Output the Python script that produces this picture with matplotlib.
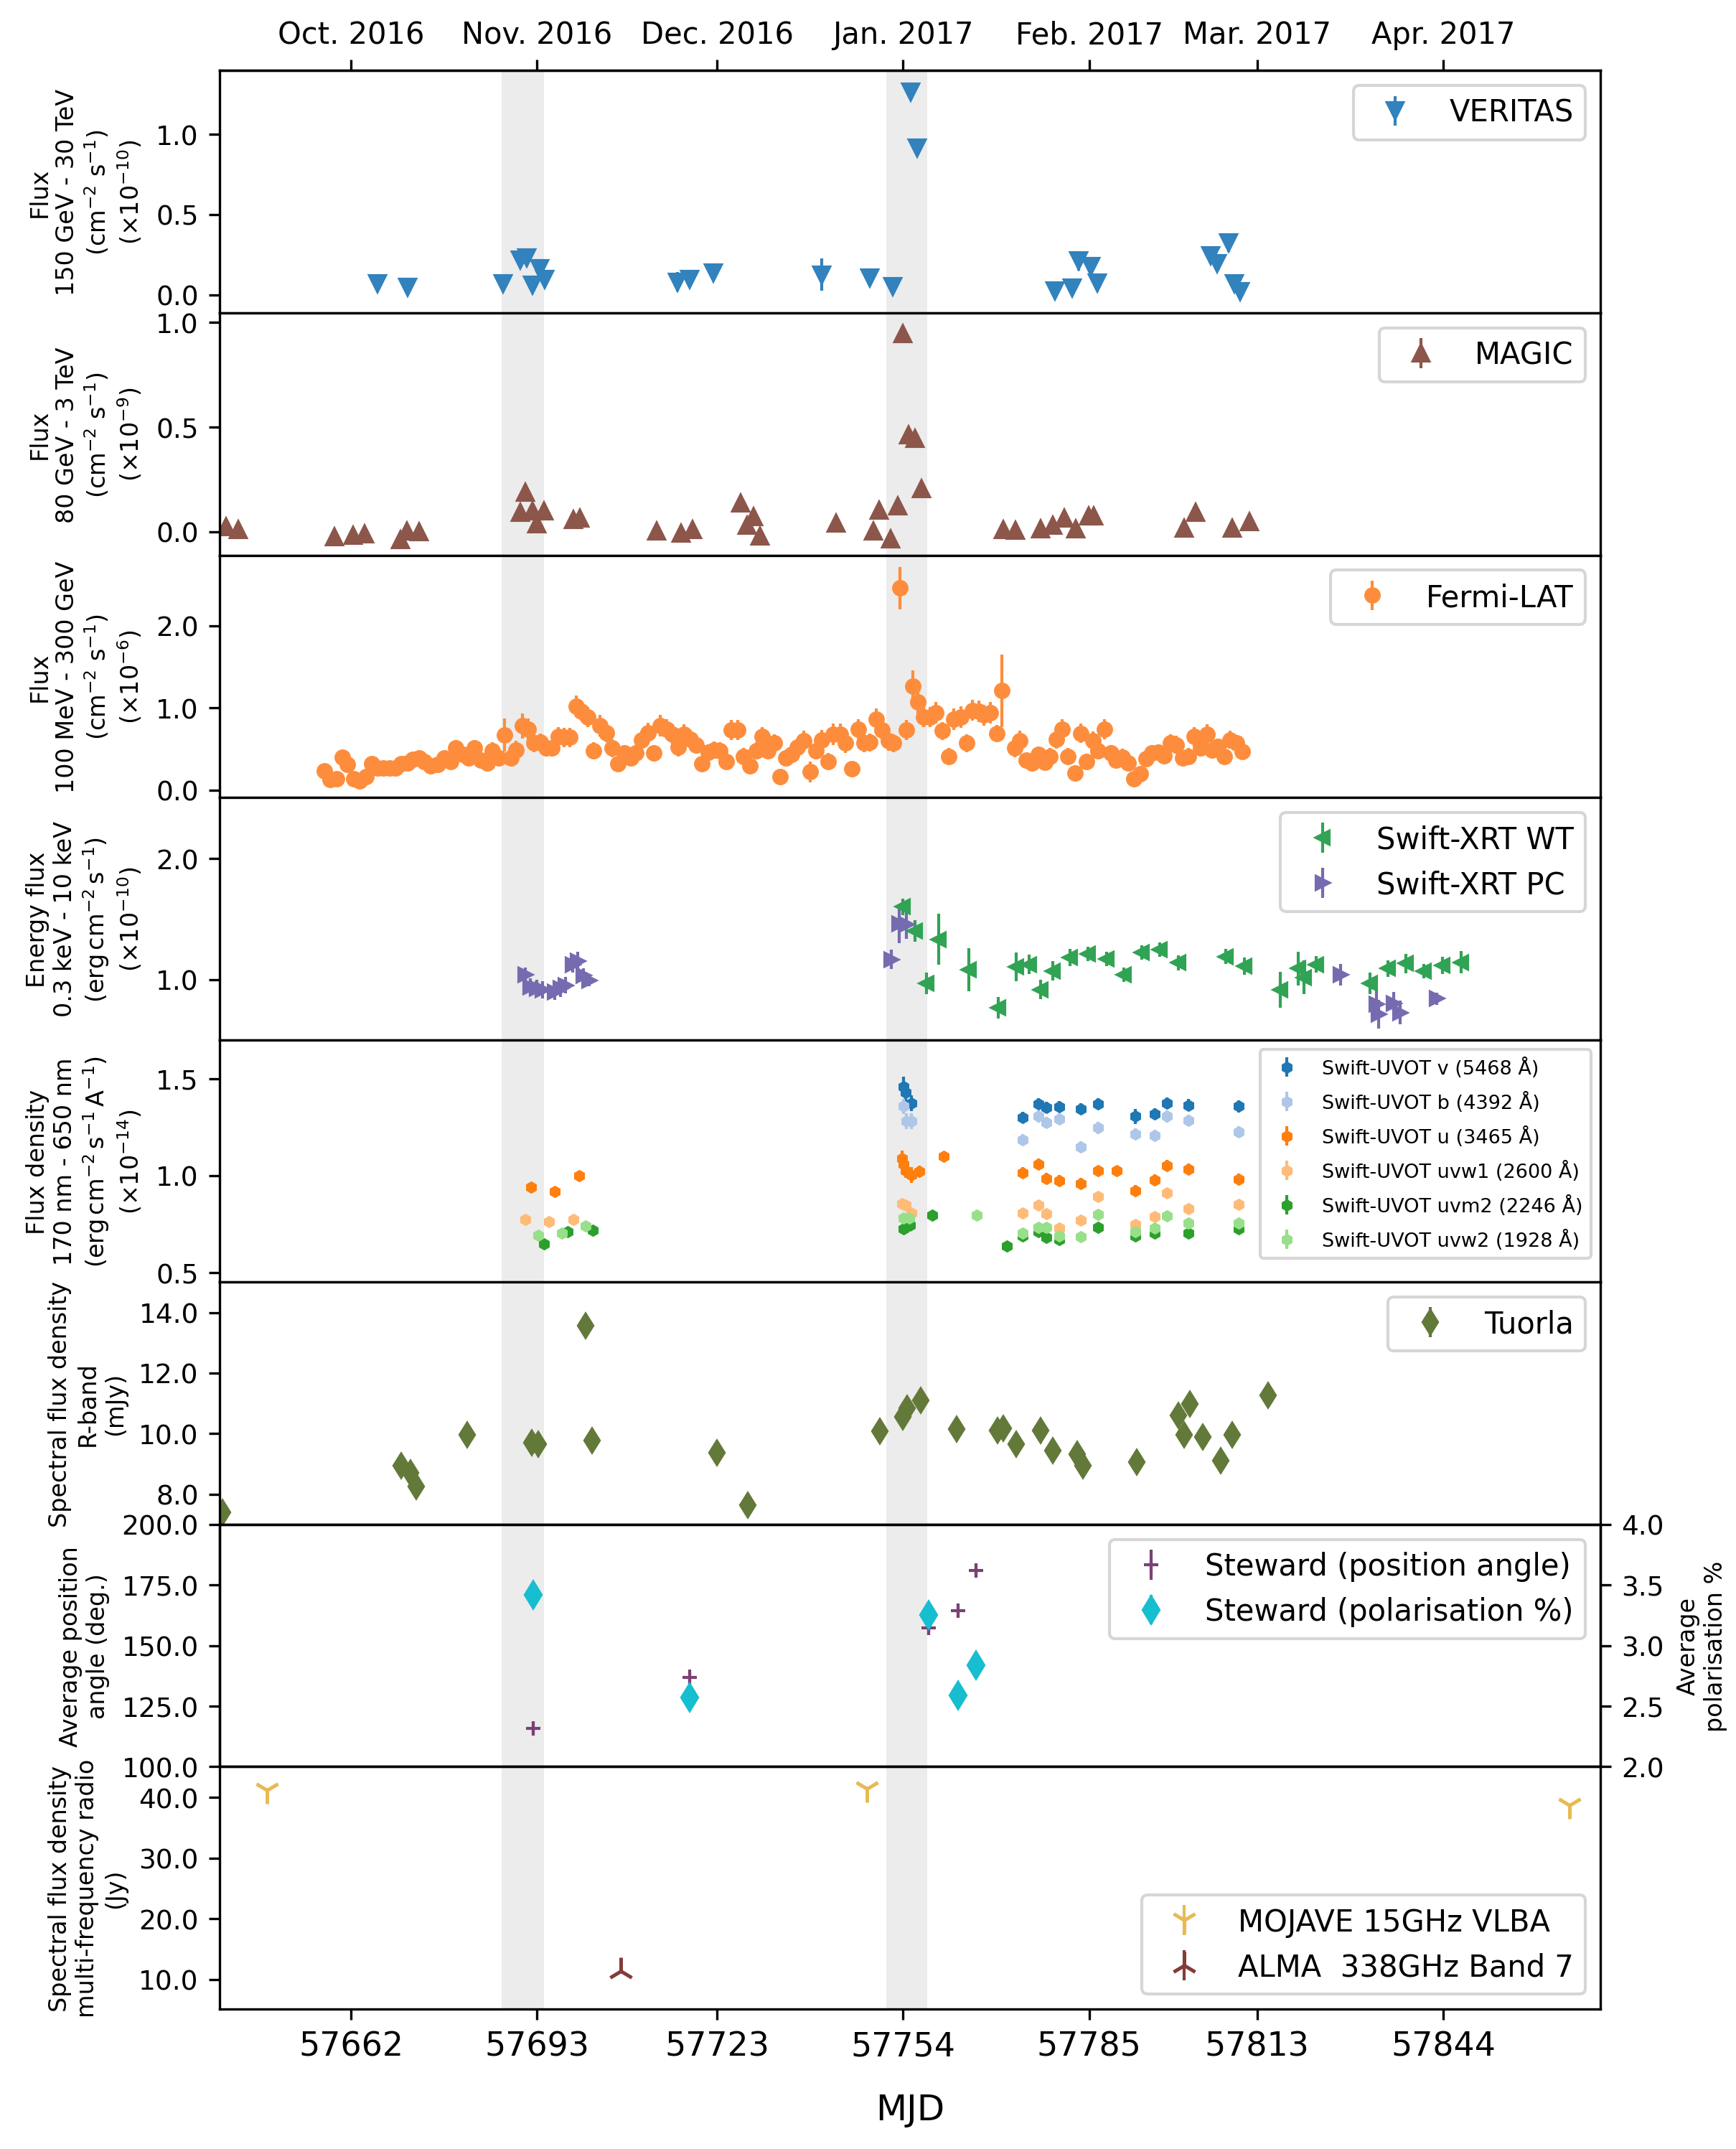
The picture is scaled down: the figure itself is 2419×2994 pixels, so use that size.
import matplotlib.pyplot as plt
from matplotlib.ticker import FormatStrFormatter

# ---------------- data ----------------
month_mjd = [57662, 57693, 57723, 57754, 57785, 57813, 57844]
month_labels = ["Oct. 2016", "Nov. 2016", "Dec. 2016", "Jan. 2017",
                "Feb. 2017", "Mar. 2017", "Apr. 2017"]
flare_windows = [(57687.1, 57694.2), (57751.2, 57758.0)]

# VERITAS (x1e-10)
veritas_mjd = [57666.4, 57671.4, 57687.3, 57690.2, 57691.3, 57692.2, 57693.4, 57694.3,
               57716.4, 57718.4, 57722.4, 57740.4, 57748.5, 57752.3, 57755.3, 57756.3,
               57779.3, 57782.2, 57783.3, 57785.3, 57786.3, 57805.3, 57806.3, 57808.2,
               57809.2, 57810.2]
veritas_flux = [0.069, 0.050, 0.069, 0.218, 0.233, 0.062, 0.165, 0.098,
                0.080, 0.096, 0.137, 0.126, 0.105, 0.053, 1.266, 0.916,
                0.027, 0.043, 0.213, 0.176, 0.073, 0.245, 0.195, 0.325,
                0.069, 0.023]
veritas_err = [0.03, 0.03, 0.03, 0.05, 0.04, 0.04, 0.05, 0.05,
               0.06, 0.05, 0.03, 0.10, 0.05, 0.04, 0.05, 0.05,
               0.03, 0.04, 0.06, 0.06, 0.05, 0.05, 0.05, 0.06,
               0.04, 0.05]

# MAGIC (x1e-9)
magic_mjd = [57641.2, 57643.2, 57659.2, 57662.3, 57664.3, 57670.2, 57671.3, 57673.3,
             57690.2, 57691.0, 57692.2, 57692.9, 57694.1, 57699.0, 57700.1, 57712.9,
             57717.0, 57718.9, 57726.9, 57728.0, 57729.1, 57730.1, 57742.8, 57749.1,
             57750.0, 57751.9, 57753.1, 57753.9, 57754.9, 57756.0, 57757.0, 57770.7,
             57772.7, 57776.9, 57778.9, 57780.8, 57782.8, 57784.9, 57785.8, 57800.8,
             57802.8, 57808.8, 57811.7]
magic_flux = [0.023, 0.010, -0.025, -0.017, -0.009, -0.039, 0.002, -0.002,
              0.092, 0.188, 0.098, 0.037, 0.098, 0.057, 0.066, 0.002,
              -0.007, 0.009, 0.136, 0.032, 0.070, -0.021, 0.040, 0.002,
              0.101, -0.035, 0.124, 0.944, 0.463, 0.445, 0.206, 0.009,
              0.005, 0.014, 0.031, 0.066, 0.014, 0.075, 0.075, 0.017,
              0.092, 0.017, 0.049]
magic_err = [0.02] * 27 + [0.03, 0.03, 0.03, 0.02] + [0.02] * 12

# Fermi-LAT (x1e-6)
fermi_mjd = [57657.5, 57658.5, 57659.6, 57660.5, 57661.4, 57662.5, 57663.4, 57664.5, 57665.4, 57666.4,
             57667.4, 57668.4, 57669.4, 57670.3, 57671.4, 57672.3, 57673.3, 57674.2, 57675.3, 57676.4,
             57677.5, 57678.6, 57679.5, 57680.6, 57681.6, 57682.5, 57683.6, 57684.7, 57685.6, 57686.6,
             57687.6, 57688.6, 57689.5, 57690.6, 57691.5, 57692.5, 57693.5, 57694.5, 57695.5, 57696.5,
             57697.5, 57698.4, 57699.5, 57700.4, 57701.5, 57702.4, 57703.5, 57704.5, 57705.5, 57706.5,
             57707.5, 57708.6, 57709.5, 57710.4, 57711.5, 57712.5, 57713.5, 57714.6, 57715.6, 57716.5,
             57717.5, 57718.5, 57719.5, 57720.5, 57721.5, 57722.5, 57723.5, 57724.5, 57725.4, 57726.5,
             57727.4, 57728.5, 57729.5, 57730.5, 57731.5, 57732.6, 57733.5, 57734.4, 57735.4, 57736.4,
             57737.4, 57738.5, 57739.5, 57740.4, 57741.5, 57742.4, 57743.5, 57744.4, 57745.5, 57746.5,
             57747.5, 57748.5, 57749.5, 57750.5, 57751.5, 57752.4, 57753.5, 57754.5,
             57755.6, 57756.5, 57757.4, 57758.5, 57759.5, 57760.5, 57761.6, 57762.5, 57763.6, 57764.6,
             57765.6, 57766.6, 57767.5, 57768.5, 57769.6, 57770.5, 57772.6, 57773.5, 57774.5, 57775.5,
             57776.5, 57777.6, 57778.5, 57779.5, 57780.5, 57781.5, 57782.6, 57783.6, 57784.6, 57785.6,
             57786.5, 57787.5, 57788.6, 57789.5, 57790.5, 57791.5, 57792.5, 57793.5, 57794.5, 57795.5,
             57796.5, 57797.5, 57798.5, 57799.5, 57800.6, 57801.6, 57802.5, 57803.6, 57804.6, 57805.5,
             57806.5, 57807.5, 57808.5, 57809.6, 57810.5]
fermi_flux = [0.23, 0.13, 0.14, 0.40, 0.31, 0.14, 0.11, 0.16, 0.32, 0.27,
              0.27, 0.27, 0.27, 0.32, 0.33, 0.37, 0.39, 0.35, 0.29, 0.31,
              0.39, 0.35, 0.51, 0.43, 0.39, 0.51, 0.36, 0.33, 0.48, 0.39,
              0.67, 0.39, 0.49, 0.78, 0.74, 0.57, 0.58, 0.51, 0.51, 0.65,
              0.64, 0.64, 1.02, 0.96, 0.89, 0.48, 0.78, 0.70, 0.51, 0.32,
              0.45, 0.39, 0.45, 0.61, 0.70, 0.45, 0.78, 0.74, 0.68, 0.52,
              0.68, 0.62, 0.55, 0.32, 0.46, 0.49, 0.48, 0.35, 0.73, 0.73,
              0.41, 0.29, 0.48, 0.65, 0.48, 0.57, 0.16, 0.39, 0.43, 0.52,
              0.60, 0.22, 0.48, 0.61, 0.35, 0.68, 0.68, 0.57, 0.26, 0.74,
              0.57, 0.58, 0.86, 0.73, 0.60, 0.57, 2.46, 0.73,
              1.26, 1.07, 0.89, 0.89, 0.94, 0.72, 0.41, 0.86, 0.89, 0.57,
              0.97, 0.96, 0.91, 0.94, 0.69, 1.21, 0.51, 0.60, 0.36, 0.33,
              0.43, 0.34, 0.41, 0.62, 0.74, 0.41, 0.21, 0.69, 0.35, 0.60,
              0.48, 0.74, 0.45, 0.36, 0.40, 0.33, 0.14, 0.20, 0.38, 0.45,
              0.46, 0.42, 0.57, 0.55, 0.39, 0.41, 0.65, 0.51, 0.68, 0.49,
              0.53, 0.41, 0.61, 0.57, 0.47]
fermi_err = [0.08, 0.07, 0.07, 0.09, 0.09, 0.07, 0.06, 0.07, 0.08, 0.07,
             0.07, 0.07, 0.07, 0.07, 0.08, 0.08, 0.08, 0.08, 0.08, 0.08,
             0.09, 0.08, 0.10, 0.09, 0.09, 0.10, 0.09, 0.09, 0.10, 0.09,
             0.20, 0.09, 0.11, 0.15, 0.13, 0.11, 0.11, 0.10, 0.10, 0.12,
             0.12, 0.12, 0.13, 0.12, 0.12, 0.10, 0.13, 0.12, 0.11, 0.09,
             0.10, 0.10, 0.10, 0.11, 0.12, 0.10, 0.13, 0.12, 0.12, 0.11,
             0.12, 0.11, 0.11, 0.09, 0.10, 0.10, 0.10, 0.09, 0.12, 0.12,
             0.10, 0.09, 0.10, 0.12, 0.10, 0.11, 0.07, 0.10, 0.10, 0.11,
             0.12, 0.13, 0.11, 0.12, 0.10, 0.13, 0.13, 0.12, 0.08, 0.12,
             0.11, 0.11, 0.13, 0.12, 0.12, 0.11, 0.26, 0.12,
             0.20, 0.14, 0.12, 0.12, 0.13, 0.11, 0.10, 0.13, 0.13, 0.11,
             0.13, 0.13, 0.13, 0.13, 0.10, 0.44, 0.11, 0.12, 0.09, 0.09,
             0.10, 0.09, 0.10, 0.12, 0.12, 0.10, 0.07, 0.12, 0.09, 0.11,
             0.10, 0.12, 0.10, 0.09, 0.10, 0.09, 0.07, 0.08, 0.09, 0.10,
             0.10, 0.10, 0.11, 0.11, 0.10, 0.10, 0.12, 0.10, 0.12, 0.10,
             0.10, 0.10, 0.11, 0.10, 0.10]

# Swift-XRT (x1e-10)
wt_mjd = [57753.9, 57756.0, 57757.9, 57759.9, 57764.9, 57769.9, 57772.8, 57775.0, 57776.9, 57779.0,
          57781.8, 57784.8, 57787.9, 57790.8, 57793.8, 57796.8, 57799.9, 57807.8, 57810.9, 57816.8,
          57819.9, 57820.8, 57822.8, 57831.8, 57834.8, 57837.8, 57840.8, 57843.9, 57847.0]
wt_flux = [1.602, 1.403, 0.966, 1.332, 1.080, 0.766, 1.106, 1.125, 0.917, 1.071,
           1.183, 1.210, 1.170, 1.037, 1.223, 1.249, 1.138, 1.191, 1.111, 0.913,
           1.090, 1.018, 1.125, 0.966, 1.090, 1.133, 1.071, 1.117, 1.143]
wt_err = [0.07, 0.09, 0.09, 0.21, 0.18, 0.09, 0.12, 0.08, 0.08, 0.08,
          0.07, 0.06, 0.06, 0.06, 0.06, 0.06, 0.06, 0.06, 0.07, 0.15,
          0.14, 0.14, 0.07, 0.09, 0.07, 0.08, 0.06, 0.07, 0.09]
pc_mjd = [57691.0, 57691.9, 57693.0, 57693.9, 57696.0, 57696.9, 57697.8, 57698.9, 57699.8, 57700.7,
          57701.7, 57752.0, 57753.4, 57754.6, 57826.9, 57832.9, 57833.2, 57835.7, 57836.8, 57842.9]
pc_flux = [1.040, 0.939, 0.926, 0.913, 0.899, 0.926, 0.952, 1.125, 1.151, 1.031,
           0.992, 1.165, 1.462, 1.456, 1.040, 0.793, 0.713, 0.799, 0.727, 0.841]
pc_err = [0.06, 0.07, 0.07, 0.07, 0.07, 0.07, 0.07, 0.07, 0.08, 0.06,
          0.05, 0.08, 0.16, 0.12, 0.09, 0.12, 0.12, 0.10, 0.10, 0.05]

# Swift-UVOT (x1e-14)
uv_v_mjd = [57754.1, 57754.4, 57755.4, 57773.9, 57776.6, 57777.9, 57780.0, 57783.6, 57786.5,
            57792.7, 57795.9, 57797.9, 57801.5, 57809.9]
uv_v = [1.459, 1.430, 1.373, 1.299, 1.369, 1.351, 1.354, 1.344, 1.369,
        1.305, 1.317, 1.373, 1.364, 1.357]
uv_v_err = [0.05, 0.05, 0.04, 0.03, 0.03, 0.03, 0.03, 0.03, 0.03, 0.04, 0.03, 0.03, 0.03, 0.03]
uv_b_mjd = [57754.1, 57754.5, 57755.4, 57773.9, 57776.6, 57777.9, 57780.0, 57783.6, 57786.5,
            57792.7, 57795.9, 57797.9, 57801.5, 57809.9]
uv_b = [1.357, 1.280, 1.280, 1.184, 1.305, 1.274, 1.293, 1.148, 1.246,
        1.215, 1.206, 1.305, 1.284, 1.225]
uv_b_err = [0.04, 0.04, 0.04, 0.03, 0.03, 0.03, 0.03, 0.03, 0.03, 0.03, 0.03, 0.03, 0.03, 0.03]
uv_u_mjd = [57692.0, 57696.0, 57700.0, 57753.8, 57754.1, 57754.4, 57755.4, 57756.7, 57760.8,
            57773.9, 57776.6, 57777.9, 57780.0, 57783.6, 57786.5, 57789.6, 57792.7, 57795.9,
            57797.9, 57801.5, 57809.9]
uv_u = [0.941, 0.919, 0.999, 1.089, 1.058, 1.027, 1.003, 1.021, 1.101,
        1.015, 1.060, 0.984, 0.974, 0.959, 1.027, 1.027, 0.922, 0.978,
        1.052, 1.033, 0.981]
uv_u_err = [0.02, 0.02, 0.02, 0.04, 0.04, 0.04, 0.04, 0.03, 0.02,
            0.03, 0.03, 0.03, 0.03, 0.03, 0.02, 0.02, 0.03, 0.03,
            0.03, 0.03, 0.03]
uv_w1_mjd = [57691.0, 57695.0, 57699.1, 57753.8, 57754.4, 57755.4, 57773.9, 57776.6, 57777.9,
             57780.0, 57783.6, 57786.5, 57792.7, 57795.9, 57797.9, 57801.5, 57809.9]
uv_w1 = [0.774, 0.764, 0.774, 0.857, 0.848, 0.809, 0.809, 0.848, 0.805,
         0.731, 0.771, 0.891, 0.747, 0.789, 0.912, 0.830, 0.851]
uv_w1_err = [0.02, 0.02, 0.02, 0.02, 0.02, 0.02, 0.02, 0.02, 0.02,
             0.02, 0.02, 0.02, 0.02, 0.02, 0.02, 0.02, 0.02]
uv_m2_mjd = [57694.1, 57698.1, 57702.3, 57754.1, 57755.2, 57758.8, 57771.3, 57773.9, 57776.6,
             57777.9, 57780.0, 57786.5, 57792.7, 57795.9, 57801.5, 57809.9]
uv_m2 = [0.647, 0.712, 0.719, 0.725, 0.743, 0.795, 0.636, 0.688, 0.712,
         0.681, 0.669, 0.733, 0.688, 0.703, 0.703, 0.727]
uv_m2_err = [0.01, 0.01, 0.01, 0.02, 0.02, 0.01, 0.01, 0.01, 0.01,
             0.01, 0.01, 0.01, 0.01, 0.01, 0.01, 0.01]
uv_w2_mjd = [57693.2, 57697.2, 57701.1, 57754.1, 57755.0, 57766.3, 57773.9, 57776.6, 57777.9,
             57780.0, 57783.6, 57786.5, 57792.7, 57795.9, 57797.9, 57801.5, 57809.9]
uv_w2 = [0.694, 0.703, 0.741, 0.780, 0.780, 0.795, 0.703, 0.734, 0.734,
         0.690, 0.685, 0.799, 0.712, 0.731, 0.793, 0.756, 0.756]
uv_w2_err = [0.02, 0.02, 0.02, 0.02, 0.02, 0.02, 0.02, 0.02, 0.02,
             0.02, 0.02, 0.02, 0.02, 0.02, 0.02, 0.02, 0.02]

# Tuorla R-band (mJy)
tuorla_mjd = [57640.6, 57670.3, 57671.9, 57672.9, 57681.3, 57692.1, 57693.2, 57701.1, 57702.2,
              57723.0, 57728.1, 57750.1, 57754.0, 57754.7, 57756.9, 57762.9, 57769.7, 57770.7,
              57772.9, 57776.9, 57778.9, 57783.0, 57784.0, 57792.9, 57799.9, 57800.8, 57801.8,
              57803.9, 57806.9, 57808.9, 57814.8]
tuorla_flux = [7.40, 8.95, 8.70, 8.25, 9.97, 9.69, 9.65, 13.55, 9.77,
               9.36, 7.64, 10.07, 10.56, 10.84, 11.10, 10.15, 10.09, 10.18,
               9.66, 10.11, 9.44, 9.32, 8.95, 9.06, 10.60, 9.97, 10.97,
               9.89, 9.10, 9.95, 11.26]
tuorla_err = [0.25, 0.25, 0.25, 0.25, 0.25, 0.25, 0.25, 0.27, 0.25,
              0.25, 0.25, 0.25, 0.25, 0.25, 0.25, 0.25, 0.25, 0.25,
              0.25, 0.25, 0.25, 0.25, 0.25, 0.25, 0.25, 0.25, 0.25,
              0.25, 0.25, 0.25, 0.25]

# Steward polarimetry
steward_mjd = [57692.4, 57718.4, 57758.2, 57763.2, 57766.1]
steward_pa = [115.9, 137.0, 157.4, 164.4, 181.1]
steward_pa_err = [3.0, 3.0, 3.0, 3.0, 3.0]
steward_pol = [3.42, 2.57, 3.25, 2.59, 2.84]
steward_pol_err = [0.09, 0.09, 0.09, 0.09, 0.09]

# radio (Jy)
mojave_mjd = [57648.0, 57748.0, 57865.0]
mojave_flux = [41.3, 41.5, 38.7]
mojave_err = [0.3, 0.3, 0.3]
alma_mjd = [57707.0]
alma_flux = [11.4]
alma_err = [0.3]

# ---------------- figure ----------------
fig, axes = plt.subplots(8, 1, sharex=True, figsize=(2419 / 300, 2995 / 300), dpi=300)
fig.subplots_adjust(left=0.1265, right=0.9219, top=0.9668, bottom=0.0651, hspace=0)

ebkw = dict(elinewidth=1.0, capsize=0, linestyle="none")

ax = axes[0]
ax.errorbar(veritas_mjd, veritas_flux, yerr=veritas_err, fmt="v", ms=5.5, color="#3182bd",
            label="VERITAS", **ebkw)
ax.set_ylim(-0.113, 1.396)
ax.set_yticks([0.0, 0.5, 1.0])
ax.set_ylabel("Flux\n150 GeV - 30 TeV\n(cm$^{-2}$ s$^{-1}$)\n($\\times10^{-10}$)", fontsize=8)

ax = axes[1]
ax.errorbar(magic_mjd, magic_flux, yerr=magic_err, fmt="^", ms=5.5, color="#8c564b",
            label="MAGIC", **ebkw)
ax.set_ylim(-0.112, 1.045)
ax.set_yticks([0.0, 0.5, 1.0])
ax.set_ylabel("Flux\n80 GeV - 3 TeV\n(cm$^{-2}$ s$^{-1}$)\n($\\times10^{-9}$)", fontsize=8)

ax = axes[2]
ax.errorbar(fermi_mjd, fermi_flux, yerr=fermi_err, fmt="o", ms=4.5, color="#fd8d3c",
            label="Fermi-LAT", **ebkw)
ax.set_ylim(-0.093, 2.86)
ax.set_yticks([0.0, 1.0, 2.0])
ax.set_ylabel("Flux\n100 MeV - 300 GeV\n(cm$^{-2}$ s$^{-1}$)\n($\\times10^{-6}$)", fontsize=8)

ax = axes[3]
ax.errorbar(wt_mjd, wt_flux, yerr=wt_err, fmt="<", ms=4.5, color="#31a354",
            label="Swift-XRT WT", **ebkw)
ax.errorbar(pc_mjd, pc_flux, yerr=pc_err, fmt=">", ms=4.5, color="#756bb1",
            label="Swift-XRT PC", **ebkw)
ax.set_ylim(0.5, 2.507)
ax.set_yticks([1.0, 2.0])
ax.set_ylabel("Energy flux\n0.3 keV - 10 keV\n(erg$\\,$cm$^{-2}\\,$s$^{-1}$)\n($\\times10^{-10}$)",
              fontsize=8)

ax = axes[4]
uvot = [
    (uv_v_mjd, uv_v, uv_v_err, "#1f77b4", "Swift-UVOT v (5468 Å)"),
    (uv_b_mjd, uv_b, uv_b_err, "#aec7e8", "Swift-UVOT b (4392 Å)"),
    (uv_u_mjd, uv_u, uv_u_err, "#ff7f0e", "Swift-UVOT u (3465 Å)"),
    (uv_w1_mjd, uv_w1, uv_w1_err, "#ffbb78", "Swift-UVOT uvw1 (2600 Å)"),
    (uv_m2_mjd, uv_m2, uv_m2_err, "#2ca02c", "Swift-UVOT uvm2 (2246 Å)"),
    (uv_w2_mjd, uv_w2, uv_w2_err, "#98df8a", "Swift-UVOT uvw2 (1928 Å)"),
]
for x, y, e, c, lab in uvot:
    ax.errorbar(x, y, yerr=e, fmt="h", ms=3, color=c, label=lab, **ebkw)
ax.set_ylim(0.451, 1.70)
ax.set_yticks([0.5, 1.0, 1.5])
ax.set_ylabel("Flux density\n170 nm - 650 nm\n(erg$\\,$cm$^{-2}\\,$s$^{-1}\\,$A$^{-1}$)\n($\\times10^{-14}$)",
              fontsize=8)

ax = axes[5]
ax.errorbar(tuorla_mjd, tuorla_flux, yerr=tuorla_err, fmt="d", ms=5.5, color="#637939",
            label="Tuorla", **ebkw)
ax.set_ylim(7.0, 15.0)
ax.set_yticks([8.0, 10.0, 12.0, 14.0])
ax.set_ylabel("Spectral flux density\nR-band\n(mJy)", fontsize=8)

ax = axes[6]
axr = ax.twinx()
h1 = ax.errorbar(steward_mjd, steward_pa, yerr=steward_pa_err, fmt="+", ms=5, mew=1.0,
                 color="#7b4173", label="Steward (position angle)", **ebkw)
h2 = axr.errorbar(steward_mjd, steward_pol, yerr=steward_pol_err, fmt="d", ms=6,
                  color="#17becf", label="Steward (polarisation %)", **ebkw)
ax.set_ylim(100, 200)
ax.set_yticks([100, 125, 150, 175, 200])
axr.set_ylim(2.0, 4.0)
axr.set_yticks([2.0, 2.5, 3.0, 3.5, 4.0])
axr.yaxis.set_major_formatter(FormatStrFormatter("%.1f"))
axr.tick_params(axis="y", labelsize=9)
ax.set_ylabel("Average position\nangle (deg.)", fontsize=8)
axr.set_ylabel("Average\npolarisation %", fontsize=8)
axr.legend([h1, h2], [h1.get_label(), h2.get_label()], loc="upper right", fontsize=10)

ax = axes[7]
ax.errorbar(mojave_mjd, mojave_flux, yerr=mojave_err, fmt="1", ms=9, mew=1.2,
            color="#e7ba52", label="MOJAVE 15GHz VLBA", **ebkw)
ax.errorbar(alma_mjd, alma_flux, yerr=alma_err, fmt="2", ms=9, mew=1.2,
            color="#843c39", label="ALMA  338GHz Band 7", **ebkw)
ax.set_ylim(5.1, 45.1)
ax.set_yticks([10.0, 20.0, 30.0, 40.0])
ax.set_ylabel("Spectral flux density\nmulti-frequency radio\n(Jy)", fontsize=8)
ax.legend(loc="lower right", fontsize=10)

# common styling
for i, ax in enumerate(axes):
    for lo, hi in flare_windows:
        ax.axvspan(lo, hi, color="#ececec", lw=0, zorder=0)
    ax.yaxis.set_major_formatter(FormatStrFormatter("%.1f"))
    ax.tick_params(axis="y", labelsize=9)
    if i < 7:
        ax.tick_params(axis="x", bottom=False, labelbottom=False)
    if i not in (4, 6, 7):
        ax.legend(loc="upper right", fontsize=10)
axes[4].legend(loc="upper right", fontsize=6.5, labelspacing=0.7)

axes[0].set_xlim(57640.1, 57870.2)
axes[-1].set_xticks(month_mjd)
axes[-1].set_xticklabels([str(m) for m in month_mjd])
axes[-1].tick_params(axis="x", labelsize=11)
axes[-1].set_xlabel("MJD", fontsize=12, labelpad=10)

top = axes[0].secondary_xaxis("top")
top.set_xticks(month_mjd)
top.set_xticklabels(month_labels)
top.tick_params(axis="x", labelsize=10)

fig.savefig("out.png", dpi=300)
